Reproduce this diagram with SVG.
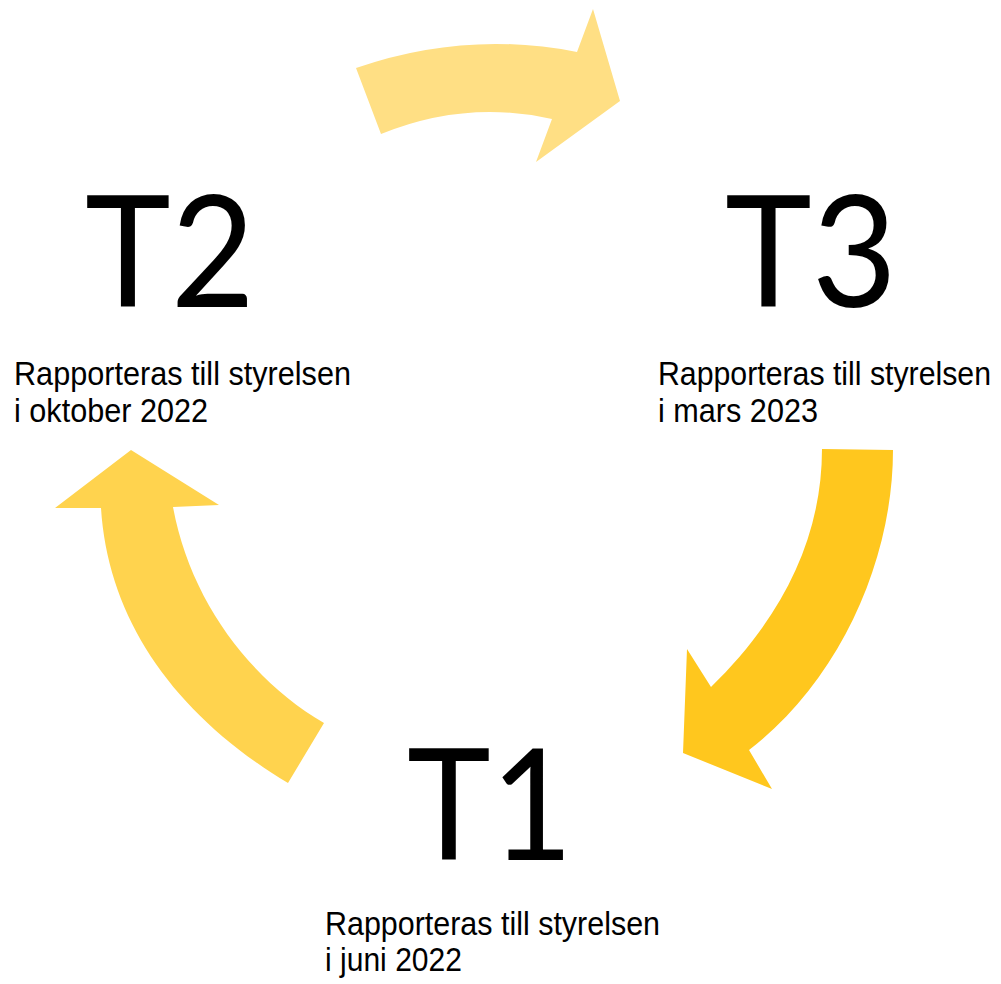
<svg xmlns="http://www.w3.org/2000/svg" width="1001" height="984" viewBox="0 0 1001 984">
<style>
.big{font-family:Lato,"Open Sans",sans-serif;font-size:155px;fill:#000;text-anchor:middle}
.sub{font-family:"Liberation Sans Narrow","Liberation Sans",Arial,sans-serif;font-size:33px;fill:#000}
</style>
<rect width="1001" height="984" fill="#fff"/>
<g id="connectors">
<path id="arrow-t2-t3" fill="#FFDF84" d="M356,68 Q465.5,30 577,52 L593,9 L620,101 L536,162 L552,119 Q465.5,99.5 381,134 Z"/>
<path id="arrow-t3-t1" fill="#FFC71E" d="M822,449 L893,450 C893,560 840,680 749,750 L772,789 L683,753 L687,649 L711,687 C780,620 822,540 822,449 Z"/>
<path id="arrow-t1-t2" fill="#FFD34E" d="M131,450 L219,505 L173,507 C190,600 250,680 324,723 L288,783 C175,715 108,620 101,508 L55,508 Z"/>
</g>
<g id="node-t2">
<text class="big" x="170" y="307" textLength="170" lengthAdjust="spacingAndGlyphs">T2</text>
<text class="sub" x="14" y="385" textLength="337" lengthAdjust="spacingAndGlyphs">Rapporteras till styrelsen</text>
<text class="sub" x="14" y="422" textLength="194" lengthAdjust="spacingAndGlyphs">i oktober 2022</text>
</g>
<g id="node-t3">
<text class="big" x="811" y="307" textLength="172" lengthAdjust="spacingAndGlyphs">T3</text>
<text class="sub" x="658" y="385" textLength="333" lengthAdjust="spacingAndGlyphs">Rapporteras till styrelsen</text>
<text class="sub" x="658" y="422" textLength="160" lengthAdjust="spacingAndGlyphs">i mars 2023</text>
</g>
<g id="node-t1">
<text class="big" x="490" y="860" textLength="166" lengthAdjust="spacingAndGlyphs">T1</text>
<text class="sub" x="325" y="935" textLength="335" lengthAdjust="spacingAndGlyphs">Rapporteras till styrelsen</text>
<text class="sub" x="325" y="971" textLength="137" lengthAdjust="spacingAndGlyphs">i juni 2022</text>
</g>
</svg>
